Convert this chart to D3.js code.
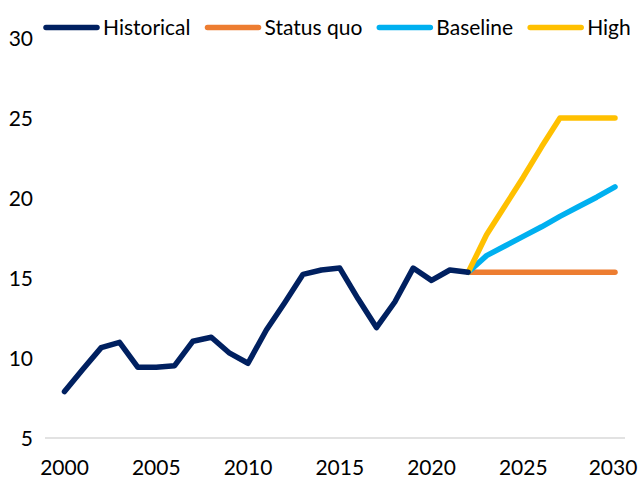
<!DOCTYPE html>
<html>
<head>
<meta charset="utf-8">
<script src="https://cdn.jsdelivr.net/npm/d3@7/dist/d3.min.js"></script>
<style>
  body { margin: 0; background: #fff; }
  svg text { font-family: Lato, "Open Sans", sans-serif; fill: #000; }
</style>
</head>
<body>
<script>
// Data
const histYears = d3.range(2000, 2023);
const histValues = [7.9, 9.3, 10.65, 10.98, 9.42, 9.42, 9.52, 11.05, 11.3, 10.3, 9.67,
  11.75, 13.45, 15.23, 15.5, 15.62, 13.7, 11.9, 13.5, 15.62, 14.85, 15.5, 15.36];

const projYears = d3.range(2022, 2031);
const statusQuo = [15.36, 15.36, 15.36, 15.36, 15.36, 15.36, 15.36, 15.36, 15.36];
const baseline = [15.36, 16.4, 17.0, 17.6, 18.2, 18.85, 19.45, 20.05, 20.7];
const high = [15.36, 17.7, 19.5, 21.3, 23.2, 25.0, 25.0, 25.0, 25.0];

const seriesNames = ["Historical", "Status quo", "Baseline", "High"];
const seriesColors = ["#002060", "#ED7D31", "#00B0F0", "#FFC000"];

const yTicks = [5, 10, 15, 20, 25, 30];
const xTicks = [2000, 2005, 2010, 2015, 2020, 2025, 2030];

const width = 639, height = 481;
const fontSize = "21px";

const svg = d3.select("body").append("svg")
  .attr("width", width)
  .attr("height", height);

const x = d3.scaleLinear().domain([2000, 2030]).range([64.5, 615]);
const y = d3.scaleLinear().domain([5, 30]).range([438, 38]);

// bottom gridline only
svg.append("line")
  .attr("x1", 45).attr("x2", 625)
  .attr("y1", y(5)).attr("y2", y(5))
  .attr("stroke", "#d9d9d9")
  .attr("stroke-width", 1.3);

// y labels
svg.append("g").selectAll("text")
  .data(yTicks)
  .join("text")
  .attr("x", 33)
  .attr("y", d => y(d))
  .attr("dy", "0.36em")
  .attr("text-anchor", "end")
  .style("font-size", fontSize)
  .text(d => d);

// x labels
svg.append("g").selectAll("text")
  .data(xTicks)
  .join("text")
  .attr("x", d => x(d) - (d === 2030 ? 2 : 0))
  .attr("y", 467)
  .attr("dy", "0.36em")
  .attr("text-anchor", "middle")
  .style("font-size", fontSize)
  .text(d => d);

const line = d3.line().x(d => x(d[0])).y(d => y(d[1]));

const series = [
  histYears.map((yr, i) => [yr, histValues[i]]),
  projYears.map((yr, i) => [yr, statusQuo[i]]),
  projYears.map((yr, i) => [yr, baseline[i]]),
  projYears.map((yr, i) => [yr, high[i]])
];

// projections under, historical on top
const drawOrder = [1, 2, 3, 0];
svg.append("g").selectAll("path")
  .data(drawOrder)
  .join("path")
  .attr("d", i => line(series[i]))
  .attr("fill", "none")
  .attr("stroke", i => seriesColors[i])
  .attr("stroke-width", 5.5)
  .attr("stroke-linejoin", "round")
  .attr("stroke-linecap", "round");

// legend
const legend = svg.append("g");
let lx = 46;
seriesNames.forEach((name, i) => {
  legend.append("line")
    .attr("x1", lx).attr("x2", lx + 51)
    .attr("y1", 27.5).attr("y2", 27.5)
    .attr("stroke", seriesColors[i])
    .attr("stroke-width", 5.5)
    .attr("stroke-linecap", "round");
  const t = legend.append("text")
    .attr("x", lx + 57)
    .attr("y", 27.5)
    .attr("dy", "0.36em")
    .style("font-size", fontSize)
    .text(name);
  lx += 57 + t.node().getComputedTextLength() + 17;
});
</script>
</body>
</html>
